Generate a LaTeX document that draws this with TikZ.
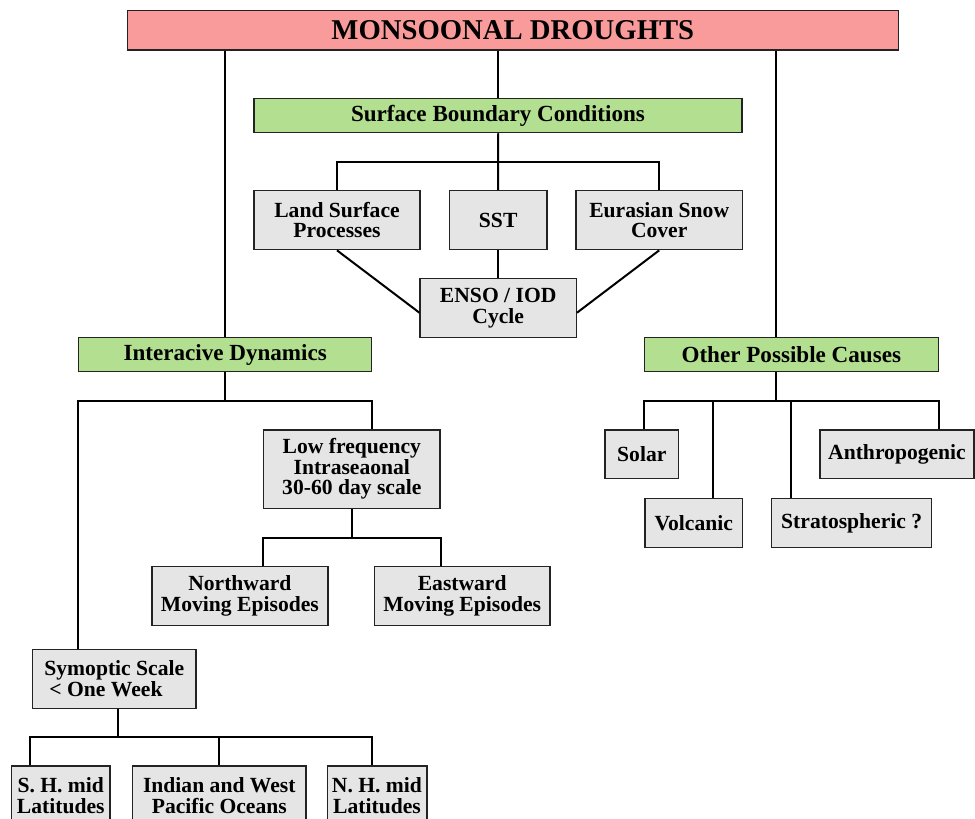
\documentclass[tikz,border=0pt]{standalone}
\usepackage{fontspec}
\setmainfont{Liberation Serif}
\usepackage{tikz}
\usetikzlibrary{positioning,calc}
\definecolor{droughtpink}{RGB}{249,155,154}
\definecolor{headgreen}  {RGB}{179,224,144}
\definecolor{leafgray}   {RGB}{229,229,229}
\definecolor{edgegray}   {RGB}{35,35,35}
\newcommand\titlefont{\fontsize{28.7}{30}\selectfont\bfseries}
\newcommand\headfont{\fontsize{23.1}{22}\selectfont\bfseries}
\newcommand\leaffont{\fontsize{21.6}{20.5}\selectfont\bfseries}
\tikzset{
  topbox/.style={draw=edgegray,fill=droughtpink,line width=1.3pt,
                 inner sep=0pt,font=\titlefont},
  headbox/.style={draw=edgegray,fill=headgreen,line width=1.3pt,
                  inner sep=0pt,minimum height=34pt,font=\headfont},
  leafbox/.style={draw=edgegray,fill=leafgray,line width=1.3pt,
                  inner sep=0pt,align=center,font=\leaffont},
  link/.style={line width=2pt,color=black},
}
\begin{document}
\begin{tikzpicture}[x=1pt,y=-1pt]
  \useasboundingbox (0,0) rectangle (975,819);
  \node[topbox,minimum width=771pt,minimum height=39.3pt](drought) at (512.8,30.3){MONSOONAL DROUGHTS};
  \node[headbox,minimum width=488pt](sbc) at (498,115.6){Surface Boundary Conditions};
  \node[leafbox,minimum width=166pt,minimum height=59pt](land) at (337,220.2){Land Surface\\Processes};
  \node[leafbox,minimum width=97.7pt,minimum height=59pt](sst) at (498.2,220.2){SST};
  \node[leafbox,minimum width=166.3pt,minimum height=59pt](snow) at (659.2,220.2){Eurasian Snow\\Cover};
  \node[leafbox,minimum width=156.3pt,minimum height=59pt](enso) at (498.2,308.2){ENSO / IOD\\Cycle};
  \node[headbox,minimum width=293.2pt](inter) at (225.2,354.7){Interacive Dynamics};
  \node[headbox,minimum width=294pt](other) at (791.3,354.5){Other Possible Causes};
  \node[leafbox,minimum width=176.4pt,minimum height=78.3pt](lowf) at (351.8,469.2){Low frequency\\Intraseaonal\\30-60 day scale};
  \node[leafbox,minimum width=176pt,minimum height=58.6pt](north) at (239.9,596){Northward\\Moving Episodes};
  \node[leafbox,minimum width=175.7pt,minimum height=58.6pt](east) at (462.2,596){Eastward\\Moving Episodes};
  \node[leafbox,minimum width=73.7pt,minimum height=48.3pt](solar) at (641.8,454.2){Solar};
  \node[leafbox,minimum width=154pt,minimum height=48.3pt](anthro) at (897,454.2){Anthropogenic};
  \node[leafbox,minimum width=97.3pt,minimum height=49pt](volc) at (693.7,522.8){Volcanic};
  \node[leafbox,minimum width=160pt,minimum height=49pt](strat) at (851.7,522.8){Stratospheric ?};
  \node[leafbox,align=left,minimum width=163.3pt,minimum height=59pt](synop) at (114.3,678.8){Symoptic Scale\\\hspace*{5pt}< One Week};
  \node[leafbox,minimum width=98.3pt,minimum height=59pt](shmid) at (60.8,795.5){S. H. mid\\Latitudes};
  \node[leafbox,minimum width=173.3pt,minimum height=59pt](indian) at (219.3,795.5){Indian and West\\Pacific Oceans};
  \node[leafbox,minimum width=99.7pt,minimum height=59pt](nhmid) at (377,795.5){N. H. mid\\Latitudes};

  \coordinate (sbcjoin) at (498,162);
  \coordinate (ijoin) at (225.2,401);
  \coordinate (ljoin) at (351.8,537.5);
  \coordinate (ojoin) at (776,401);
  \coordinate (vdrop) at (712.7,401);
  \coordinate (sdrop) at (791,401);
  \coordinate (sjoin) at (117.7,736.7);
  \coordinate (shdrop) at (30,736.7);
  \coordinate (nhdrop) at (371.7,736.7);

  \draw[link](drought.south -| sbc.north)--(sbc.north);
  \draw[link](drought.south -| inter.north)--(inter.north);
  \draw[link](drought.south -| ojoin)--(other.north -| ojoin);
  \draw[link](sbc.south)--(sst.north);
  \draw[link](land.north)|-(sbcjoin)-|(snow.north);
  \draw[link](sst.south)--(enso.north);
  \draw[link](land.south)--($(enso.west)+(0,4.5)$);
  \draw[link](snow.south)--($(enso.east)+(0,4.5)$);
  \draw[link](inter.south)--(ijoin);
  \draw[link](inter.west |- synop.north)|-(ijoin)-|(inter.east |- lowf.north);
  \draw[link](lowf.south)--(ljoin);
  \draw[link](lowf.west |- north.north)|-(ljoin)-|(lowf.east |- east.north);
  \draw[link](other.south -| ojoin)--(ojoin);
  \draw[link](other.west |- solar.north)|-(ojoin)-|(other.east |- anthro.north);
  \draw[link](vdrop)--(vdrop |- volc.north);
  \draw[link](sdrop)--(sdrop |- strat.north);
  \draw[link](synop.south -| sjoin)--(sjoin);
  \draw[link](shdrop |- shmid.north)--(shdrop)--(nhdrop)--(nhdrop |- nhmid.north);
  \draw[link](indian.north)--(indian.north |- sjoin);
\end{tikzpicture}
\end{document}
